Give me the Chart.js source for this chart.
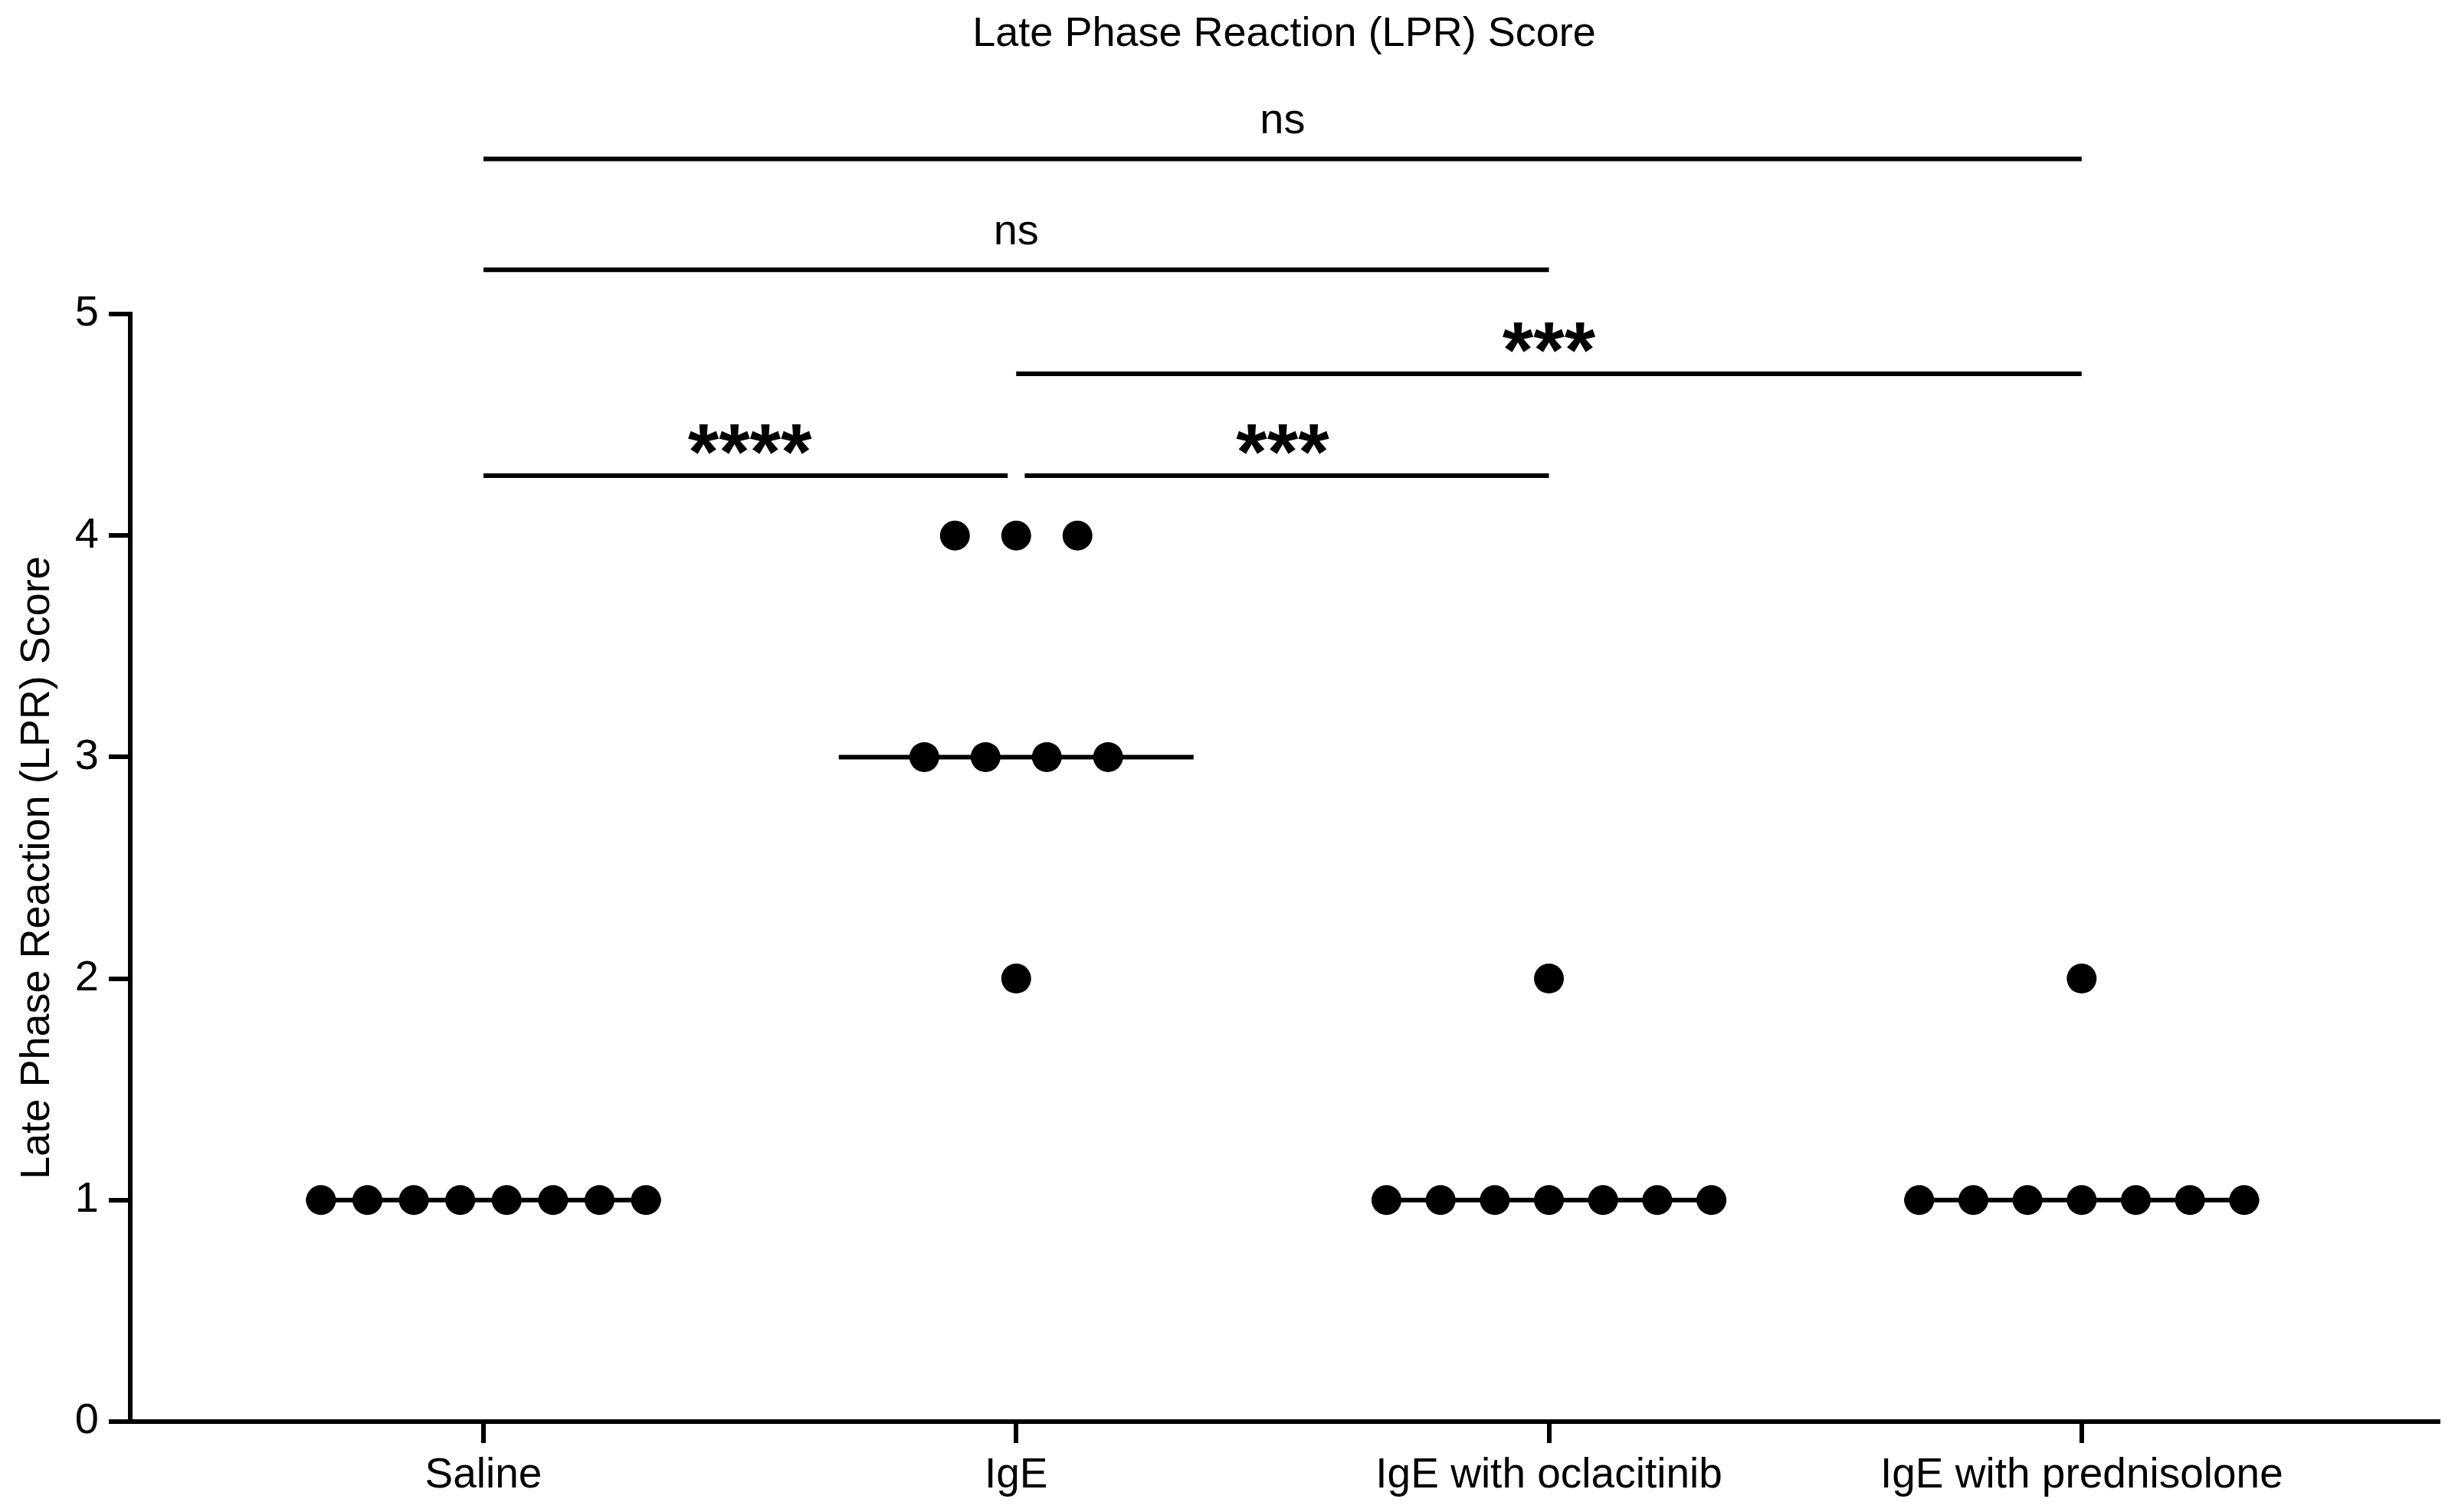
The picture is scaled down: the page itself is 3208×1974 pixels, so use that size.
<!DOCTYPE html>
<html>
<head>
<meta charset="utf-8">
<script src="https://cdn.jsdelivr.net/npm/chart.js@4.4.1/dist/chart.umd.min.js"></script>
<style>
  html, body { margin: 0; padding: 0; background: #fff; }
  canvas { display: block; }
</style>
</head>
<body>
<canvas id="lprChart" width="3208" height="1974" style="width:3208px;height:1974px"></canvas>
<script>
// values
const groups = ["Saline", "IgE", "IgE with oclacitinib", "IgE with prednisolone"];
const saline = [1, 1, 1, 1, 1, 1, 1, 1];
const ige = [4, 4, 4, 3, 3, 3, 3, 2];
const oclacitinib = [2, 1, 1, 1, 1, 1, 1, 1];
const prednisolone = [2, 1, 1, 1, 1, 1, 1, 1];
const yTicks = [0, 1, 2, 3, 4, 5];

// significance comparisons (group index from / to, label, bracket height in score units)
const compFrom = [0, 0, 1, 0, 1];
const compTo = [3, 2, 3, 1, 2];
const compLabel = ["ns", "ns", "***", "****", "***"];
const compLevel = [5.70, 5.20, 4.73, 4.27, 4.27];

const FONT = '"Liberation Sans", Arial, Helvetica, sans-serif';
const groupValues = [saline, ige, oclacitinib, prednisolone];

// spread tied values sideways like a column scatter
function spread(values) {
    const counts = {};
    values.forEach(v => counts[v] = (counts[v] || 0) + 1);
    const seen = {};
    return values.map(v => {
        const n = counts[v];
        seen[v] = (seen[v] === undefined) ? 0 : seen[v] + 1;
        const step = Math.min(0.115, 0.61 / Math.max(n - 1, 1));
        return (seen[v] - (n - 1) / 2) * step;
    });
}

function median(arr) {
    const s = [...arr].sort((a, b) => a - b);
    const m = s.length / 2;
    return s.length % 2 ? s[Math.floor(m)] : (s[m - 1] + s[m]) / 2;
}

const points = groupValues.flatMap((vals, g) => {
    const off = spread(vals);
    return vals.map((v, k) => ({x: g + off[k], y: v}));
});

const medianSets = groupValues.map((vals, g) => ({
    data: [{x: g - 0.333, y: median(vals)}, {x: g + 0.333, y: median(vals)}],
    showLine: true,
    borderColor: '#000',
    borderWidth: 6,
    pointRadius: 0,
    order: 2
}));

const bracketSets = compFrom.map((a, i) => {
    let x1 = a, x2 = compTo[i];
    compFrom.forEach((b, j) => {
        if (j === i || compLevel[j] !== compLevel[i]) return;
        if (b === compTo[i]) x2 -= 0.016;
        if (compTo[j] === a) x1 += 0.016;
    });
    return {
        data: [{x: x1, y: compLevel[i]}, {x: x2, y: compLevel[i]}],
        showLine: true,
        borderColor: '#000',
        borderWidth: 6,
        pointRadius: 0,
        clip: false,
        order: 3
    };
});

const bracketLabels = {
    id: 'bracketLabels',
    afterDatasetsDraw(chart) {
        const {ctx, scales: {x, y}} = chart;
        ctx.save();
        ctx.fillStyle = '#000';
        ctx.textAlign = 'center';
        ctx.textBaseline = 'alphabetic';
        compLabel.forEach((lab, i) => {
            ctx.font = lab === 'ns' ? '56px ' + FONT : 'bold 104px ' + FONT;
            const m = ctx.measureText(lab);
            const cx = x.getPixelForValue((compFrom[i] + compTo[i]) / 2);
            const cy = y.getPixelForValue(compLevel[i]) - 48;
            ctx.fillText(lab, cx, cy + (m.actualBoundingBoxAscent - m.actualBoundingBoxDescent) / 2);
        });
        ctx.restore();
    }
};

Chart.defaults.color = '#000';
Chart.defaults.font.family = FONT;

new Chart(document.getElementById('lprChart'), {
    type: 'scatter',
    data: {
        datasets: [{
            data: points,
            pointRadius: 19.5,
            pointHoverRadius: 19.5,
            pointBackgroundColor: '#000',
            pointBorderWidth: 0,
            order: 1
        }, ...medianSets, ...bracketSets]
    },
    options: {
        responsive: false,
        devicePixelRatio: 1,
        animation: false,
        events: [],
        layout: {padding: {left: 0, right: 26, top: 0, bottom: 0}},
        plugins: {
            legend: {display: false},
            tooltip: {enabled: false},
            title: {
                display: true,
                text: 'Late Phase Reaction (LPR) Score',
                fullSize: false,
                color: '#000',
                font: {size: 54, weight: 'normal', family: FONT},
                padding: {top: 12.6, bottom: 332.6}
            }
        },
        scales: {
            x: {
                type: 'linear',
                min: -0.663,
                max: 3.669,
                afterBuildTicks: s => { s.ticks = groups.map((_, i) => ({value: i})); },
                afterFit: s => { s.height = 118; },
                ticks: {
                    callback: v => groups[v],
                    font: {size: 55, family: FONT},
                    color: '#000',
                    padding: 10,
                    maxRotation: 0,
                    autoSkip: false
                },
                grid: {drawOnChartArea: false, drawTicks: true, tickLength: 28, lineWidth: 6, color: '#000'},
                border: {display: true, color: '#000', width: 6}
            },
            y: {
                min: 0,
                max: 5,
                afterBuildTicks: s => { s.ticks = yTicks.map(v => ({value: v})); },
                afterFit: s => { s.width = 170; },
                ticks: {font: {size: 56, family: FONT}, color: '#000', padding: 13},
                grid: {drawOnChartArea: false, drawTicks: true, tickLength: 28, lineWidth: 6, color: '#000'},
                border: {display: true, color: '#000', width: 6},
                title: {
                    display: true,
                    text: 'Late Phase Reaction (LPR) Score',
                    font: {size: 54, family: FONT},
                    color: '#000',
                    padding: {top: 17, bottom: 0}
                }
            }
        }
    },
    plugins: [bracketLabels]
});
</script>
</body>
</html>
